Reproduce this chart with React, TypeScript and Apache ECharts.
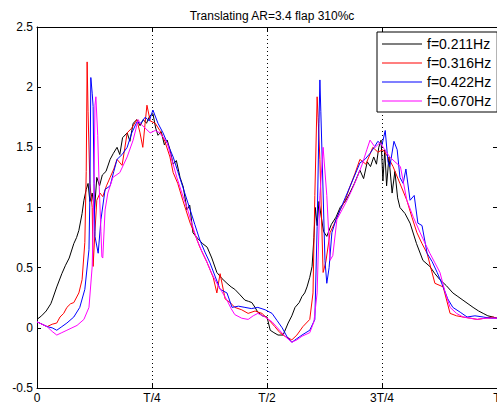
import React, { useEffect, useRef } from "react";
import * as echarts from "echarts";

// phase in % of period T, lift coefficient
const tickLabels: Record<number, string> = { 0: "0", 25: "T/4", 50: "T/2", 75: "3T/4", 100: "T" };
const seriesNames = ["f=0.211Hz", "f=0.316Hz", "f=0.422Hz", "f=0.670Hz"];
const seriesColors = ["#000000", "#ff0000", "#0000ff", "#ff00ff"];

const black: [number, number][] = [
  [0, .07], [1, .10], [2, .14], [3, .20], [3.3, .23], [4.3, .34], [5.4, .45], [6.2, .52], [7, .58], [8, .70], [8.6, .75], [9.1, .81], [9.8, .95], [10.2, 1.06], [10.7, 1.15], [11.1, 1.20], [11.5, 1.05], [12, 1.12], [12.5, 0.98], [13, 1.25], [13.6, 1.18], [14.2, 1.27], [15, 1.30], [15.9, 1.40], [16.6, 1.45], [17.4, 1.50], [18, 1.44], [18.6, 1.58], [19.6, 1.62], [20.2, 1.55], [20.9, 1.70], [21.7, 1.73], [22.4, 1.68], [23.1, 1.73], [23.8, 1.70], [24.5, 1.76], [25.2, 1.78], [25.8, 1.66], [26.3, 1.60], [27, 1.63], [27.7, 1.52], [28.3, 1.56], [28.9, 1.48], [29.6, 1.36], [30.3, 1.39], [31.1, 1.25], [31.8, 1.17], [32.6, 0.98], [33.2, 1.02], [33.9, 0.79], [35, 0.74], [36, 0.70], [37, 0.67], [38, 0.58], [39.1, 0.46], [40.2, 0.41], [41.3, 0.37], [42.2, 0.34], [43, 0.32], [44, 0.28], [45.2, 0.23], [46, 0.22], [46.7, 0.21], [47.4, 0.17], [48, 0.13], [49, 0.10], [50, 0.09], [50.7, -0.02], [51.5, -0.04], [52.4, -0.06], [53.5, -0.06], [54.6, 0.04], [55.4, 0.10], [56.1, 0.17], [57, 0.21], [57.6, 0.26], [58.2, 0.29], [58.7, 0.34], [59.3, 0.42], [59.8, 0.51], [60.2, 0.75], [60.5, 1.0], [60.9, 0.85], [61.3, 1.05], [61.8, 0.92], [62.3, 0.80], [63, 0.76], [64, 0.86], [65, 0.92], [65.9, 1.00], [67, 1.05], [68, 1.12], [69, 1.20], [70.2, 1.31], [71, 1.24], [71.8, 1.38], [72.5, 1.34], [73.2, 1.42], [73.8, 1.36], [74.3, 1.50], [74.8, 1.56], [75.2, 1.22], [75.6, 1.48], [76, 1.18], [76.5, 1.42], [77.2, 1.12], [77.8, 1.30], [78.4, 1.08], [78.9, 1.00], [80, 0.95], [81.1, 0.87], [82.5, 0.70], [83.9, 0.56], [85.4, 0.51], [86.5, 0.45], [87.6, 0.40], [89, 0.35], [90.4, 0.29], [91.5, 0.26], [92.6, 0.23], [93.7, 0.20], [94.8, 0.17], [96, 0.14], [97, 0.12], [98, 0.10], [99.1, 0.09], [100, 0.08],
];

const red: [number, number][] = [
  [0, .05], [1.1, .03], [2.2, .01], [3.3, .03], [4.3, .04], [5, .09], [5.8, .12], [6.5, .17], [7.3, .20], [8, .21], [9.1, .29], [9.8, .40], [10.4, .71], [10.7, 1.3], [10.9, 2.21], [11.1, 1.8], [11.5, 1.2], [12, 1.0], [12.2, 0.51], [12.6, 0.8], [13, 1.06], [13.7, 1.12], [14.3, 1.09], [15.1, 1.18], [15.9, 1.25], [16.7, 1.32], [17.4, 1.40], [18.5, 1.35], [19.6, 1.62], [20.6, 1.66], [21.7, 1.73], [22.4, 1.62], [23, 1.50], [23.5, 1.70], [23.9, 1.85], [24.6, 1.72], [25.7, 1.70], [26.7, 1.64], [27.8, 1.55], [28.9, 1.42], [29.6, 1.29], [30.6, 1.20], [31.7, 1.06], [33.3, 0.87], [34.3, 0.78], [35.4, 0.67], [36.9, 0.55], [38.3, 0.42], [39.1, 0.29], [39.8, 0.45], [40.9, 0.24], [42, 0.21], [43, 0.17], [44.5, 0.15], [45.9, 0.12], [47.4, 0.14], [48.9, 0.12], [50.3, 0.07], [51.7, 0.01], [52.8, -0.04], [53.9, -0.07], [55.4, -0.10], [56.5, -0.06], [57.8, 0.01], [59.3, 0.07], [60, 0.29], [60.4, 1.1], [60.9, 1.92], [61.1, 1.75], [61.5, 1.4], [62.2, 0.46], [62.8, 0.55], [63.7, 0.79], [64.8, 0.88], [65.9, 0.98], [67, 1.06], [68, 1.17], [69.1, 1.28], [70.2, 1.40], [71.5, 1.36], [73, 1.50], [74.1, 1.46], [75.2, 1.48], [76.3, 1.42], [77.4, 1.34], [78.9, 1.20], [80.4, 1.06], [81.5, 0.92], [82.6, 0.79], [83.7, 0.70], [84.8, 0.62], [85.6, 0.50], [86.5, 0.37], [88.3, 0.34], [89.8, 0.12], [91.2, 0.10], [92.6, 0.09], [94.2, 0.08], [95.7, 0.07], [97.4, 0.08], [99.1, 0.09], [100, 0.08],
];

const blue: [number, number][] = [
  [0, .05], [1.1, .03], [2.2, .01], [3.3, .00], [4.3, -0.02], [5.4, .01], [6.5, .04], [8, .09], [9.3, .17], [10.4, .32], [11.3, .65], [11.5, 1.1], [11.7, 2.08], [12, 1.95], [12.2, 1.84], [12.4, 1.2], [12.6, 0.76], [13.3, 0.62], [13.9, 0.9], [14.8, 1.15], [15.9, 1.18], [16.7, 1.30], [17.4, 1.40], [18.5, 1.44], [19.6, 1.50], [20.6, 1.62], [21.7, 1.71], [22.6, 1.70], [23.5, 1.75], [24.4, 1.72], [25.2, 1.81], [26.3, 1.70], [27.4, 1.62], [28.5, 1.52], [29.6, 1.42], [30.6, 1.30], [31.7, 1.17], [33.3, 0.98], [34.3, 0.86], [35.4, 0.73], [36.5, 0.63], [37.6, 0.54], [38.7, 0.43], [39.8, 0.32], [41.3, 0.29], [42.4, 0.17], [43.8, 0.18], [45.2, 0.17], [46.6, 0.16], [48, 0.17], [49.6, 0.15], [51.1, 0.12], [52.2, 0.06], [53.3, 0.0], [54.3, -0.07], [55.4, -0.12], [56.5, -0.09], [57.6, -0.06], [59.3, -0.02], [60.4, 0.07], [60.9, 0.84], [61.3, 1.7], [61.5, 2.06], [61.7, 1.8], [62, 1.40], [62.6, 0.56], [63, 0.37], [63.5, 0.5], [64.1, 0.79], [65, 0.90], [65.9, 0.98], [67, 1.08], [68, 1.17], [69.1, 1.27], [70.2, 1.37], [71.3, 1.40], [72.4, 1.45], [73.3, 1.50], [74.1, 1.55], [75, 1.52], [75.7, 1.64], [76.3, 1.38], [76.7, 1.34], [77.6, 1.55], [78.3, 1.48], [78.9, 1.25], [79.6, 1.20], [80.2, 1.32], [81.1, 1.06], [82, 1.10], [82.8, 0.87], [83.7, 0.85], [84.8, 0.62], [85.9, 0.55], [87, 0.46], [88.3, 0.34], [89.3, 0.24], [90.4, 0.17], [92, 0.13], [93.5, 0.09], [95.2, 0.10], [97, 0.09], [98.5, 0.08], [100, 0.08],
];

const magenta: [number, number][] = [
  [0, .05], [1.1, .03], [2.2, .01], [3.3, -0.03], [4.3, -0.06], [5.4, -0.04], [6.5, -0.02], [7.6, 0.0], [8.7, 0.02], [10.2, 0.07], [11.3, 0.17], [12, 0.51], [12.4, 1.2], [12.6, 1.85], [12.8, 1.92], [13.2, 1.6], [13.5, 1.2], [13.9, 0.80], [14.1, 0.59], [14.3, 0.58], [14.8, 0.98], [15.4, 1.12], [16.5, 1.25], [18, 1.29], [19.6, 1.42], [20.9, 1.56], [22, 1.73], [22.4, 1.70], [23.5, 1.66], [24.6, 1.62], [25.7, 1.64], [26.7, 1.62], [28.3, 1.54], [29.3, 1.40], [30.4, 1.25], [31.5, 1.12], [32.6, 1.00], [33.7, 0.86], [34.8, 0.73], [35.9, 0.63], [37, 0.54], [38, 0.45], [39.1, 0.37], [40.2, 0.30], [41.3, 0.23], [42.2, 0.16], [43, 0.11], [44.5, 0.08], [45.9, 0.07], [47, 0.10], [48, 0.12], [49.6, 0.09], [51.1, 0.05], [52.5, -0.01], [53.9, -0.07], [55.4, -0.12], [56.5, -0.10], [57.6, -0.07], [59.3, -0.04], [60.2, 0.05], [60.9, 0.29], [61.5, 1.1], [62.2, 1.50], [63, 1.1], [63.7, 0.56], [64.3, 0.6], [65.2, 0.90], [66.3, 0.98], [67.4, 1.06], [68.5, 1.15], [69.6, 1.25], [70.7, 1.36], [71.7, 1.48], [72.4, 1.56], [73.5, 1.50], [74.6, 1.54], [75.6, 1.48], [76.7, 1.42], [77.8, 1.38], [79, 1.34], [80.4, 1.06], [81.8, 0.92], [83.3, 0.79], [84.4, 0.70], [85.4, 0.62], [86.5, 0.54], [87.6, 0.46], [88.7, 0.30], [89.8, 0.17], [91.2, 0.12], [92.6, 0.09], [94.2, 0.08], [95.7, 0.07], [97.4, 0.08], [99, 0.08], [100, 0.08],
];

const seriesData = [black, red, blue, magenta];

const FONT = "'Liberation Sans', Arial, sans-serif";

export default function App() {
  const ref = useRef<HTMLDivElement>(null);
  useEffect(() => {
    if (!ref.current) return;
    document.body.style.margin = "0";
    const chart = echarts.init(ref.current, undefined, { renderer: "svg" });
    const axisCommon = {
      axisLine: { show: true, onZero: false, lineStyle: { color: "#000", width: 1 } },
      axisTick: { show: true, inside: true, length: 4, lineStyle: { color: "#000" } },
    };
    chart.setOption({
      animation: false,
      backgroundColor: "#fff",
      title: {
        text: "Translating AR=3.4 flap 310%c",
        left: 267,
        top: 5,
        textAlign: "center",
        textStyle: { fontSize: 12, fontWeight: "normal", color: "#000", fontFamily: FONT },
      },
      legend: {
        orient: "vertical",
        left: 377,
        top: 32,
        padding: [5, 6, 4, 5],
        itemGap: 5,
        itemWidth: 40,
        itemHeight: 1,
        icon: "rect",
        borderColor: "#000",
        borderWidth: 1,
        backgroundColor: "#fff",
        borderRadius: 0,
        textStyle: { fontSize: 14, lineHeight: 14, color: "#000", fontFamily: FONT },
        data: seriesNames,
      },
      grid: { left: 37, top: 27, right: 0, bottom: 18, containLabel: false, outerBoundsMode: "none" },
      xAxis: [
        {
          type: "value",
          min: 0,
          max: 100,
          interval: 25,
          position: "bottom",
          ...axisCommon,
          axisLabel: {
            color: "#000",
            fontSize: 12,
            fontFamily: FONT,
            margin: 4,
            formatter: (v: number) => tickLabels[v] ?? "",
          },
          splitLine: { show: true, lineStyle: { color: "#000", type: [1, 3], width: 1 } },
        },
        {
          type: "value",
          min: 0,
          max: 100,
          interval: 25,
          position: "top",
          ...axisCommon,
          axisLabel: { show: false },
          splitLine: { show: false },
        },
      ],
      yAxis: [
        {
          type: "value",
          min: -0.5,
          max: 2.5,
          interval: 0.5,
          position: "left",
          ...axisCommon,
          axisLabel: { color: "#000", fontSize: 12, fontFamily: FONT, margin: 4 },
          splitLine: { show: false },
        },
        {
          type: "value",
          min: -0.5,
          max: 2.5,
          interval: 0.5,
          position: "right",
          ...axisCommon,
          axisLabel: { show: false },
          splitLine: { show: false },
        },
      ],
      series: seriesNames.map((name, i) => ({
        name,
        type: "line",
        data: seriesData[i],
        xAxisIndex: 0,
        yAxisIndex: 0,
        symbol: "none",
        showSymbol: false,
        lineStyle: { color: seriesColors[i], width: 1 },
        itemStyle: { color: seriesColors[i] },
      })),
    });
    return () => chart.dispose();
  }, []);
  return (
    <div
      ref={ref}
      style={{ position: "fixed", left: 0, top: 0, width: 497, height: 406 }}
    />
  );
}
